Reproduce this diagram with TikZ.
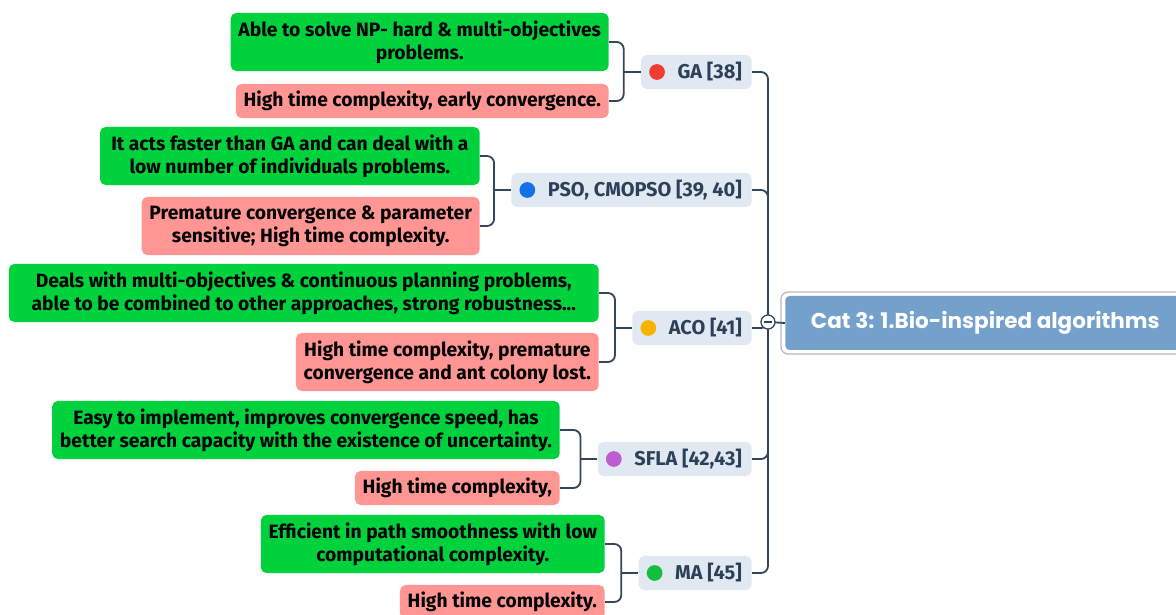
\documentclass[tikz,border=0pt]{standalone}
\usepackage{fontspec}
\setmainfont{Fira Sans}
\newfontfamily\titlefont{Poppins}
\usepackage{tikz}
\usetikzlibrary{positioning}

\definecolor{progreen}{RGB}{0, 210, 62}
\definecolor{conpink}{RGB}{255, 150, 148}
\definecolor{catfill}{RGB}{224, 232, 242}
\definecolor{cattext}{RGB}{44, 64, 90}
\definecolor{linkcol}{RGB}{52, 70, 92}
\definecolor{rootblue}{RGB}{116, 160, 204}
\definecolor{dotred}{RGB}{240, 60, 50}
\definecolor{dotblue}{RGB}{22, 112, 230}
\definecolor{dotorange}{RGB}{250, 180, 0}
\definecolor{dotviolet}{RGB}{190, 92, 210}
\definecolor{dotgreen}{RGB}{20, 190, 64}

\begin{document}
\begin{tikzpicture}[x=0.025cm, y=-0.025cm,
  leaf/.style={anchor=east, rounded corners=4pt, align=center, inner xsep=5.5pt, inner ysep=2pt, minimum height=24.2pt, text=black, font=\bfseries\fontsize{13.7}{16.3}\selectfont},
  pro/.style={leaf, fill=progreen},
  con/.style={leaf, fill=conpink},
  cat/.style={anchor=east, fill=catfill, rounded corners=4pt, inner xsep=7pt, minimum height=24.2pt, text=cattext, font=\bfseries\fontsize{14.2}{16}\selectfont,
    path picture={\fill[#1] ([xshift=11.4pt]path picture bounding box.west) circle (5.6pt);}},
  root/.style={anchor=west, fill=rootblue, rounded corners=3pt, minimum width=284.5pt, minimum height=38.4pt, text=white, font=\titlefont\bfseries\fontsize{15.3}{17}\selectfont},
  hub/.style={circle, draw=linkcol, fill=white, line width=0.9pt, minimum size=10pt, inner sep=0pt,
    path picture={\draw[linkcol, line width=0.8pt] ([xshift=-3pt]path picture bounding box.center) -- ([xshift=3pt]path picture bounding box.center);}},
  link/.style={draw=linkcol, line width=1.3pt, rounded corners=5pt}
]
  \useasboundingbox (0,0) rectangle (1176,615);

  % Root topic
  \draw[gray!55, line width=0.9pt, rounded corners=5pt] (781,292) rectangle (1200,354);
  \node[root] (bio) at (785,323) {Cat 3: 1.Bio-inspired algorithms};

  % Algorithms
  \node[cat=dotred] (ga) at (752,72) {\hspace*{19pt}GA [38]};
  \node[cat=dotblue] (pso) at (752,190) {\hspace*{19pt}PSO, CMOPSO [39, 40]};
  \node[cat=dotorange] (aco) at (752,328) {\hspace*{19pt}ACO [41]};
  \node[cat=dotviolet] (sfla) at (752,459) {\hspace*{19pt}SFLA [42,43]};
  \node[cat=dotgreen] (ma) at (752,573) {\hspace*{19pt}MA [45]};

  % Strengths and weaknesses
  \node[pro, minimum height=41.3pt] (gapro) at (609,42) {Able to solve NP- hard \& multi-objectives\\problems.};
  \node[con] (gacon) at (609,101) {High time complexity, early convergence.};

  \node[pro, minimum height=41.3pt, minimum width=270pt] (psopro) at (480,156) {It acts faster than GA and can deal with a\\low number of individuals problems.};
  \node[con, minimum height=41.3pt] (psocon) at (480,226) {Premature convergence \& parameter\\sensitive; High time complexity.};

  \node[pro, minimum height=41.3pt, minimum width=419.5pt] (acopro) at (599,293) {Deals with multi-objectives \& continuous planning problems,\\able to be combined to other approaches, strong robustness...};
  \node[con, minimum height=41.3pt] (acocon) at (599,362) {High time complexity, premature\\convergence and ant colony lost.};

  \node[pro, minimum height=41.3pt] (sflapro) at (560,430) {Easy to implement, improves convergence speed, has\\better search capacity with the existence of uncertainty.};
  \node[con] (sflacon) at (560,488) {High time complexity,};

  \node[pro, minimum height=41.3pt] (mapro) at (605,544) {Efficient in path smoothness with low\\computational complexity.};
  \node[con] (macon) at (605,602) {High time complexity.};

  % Trunk
  \coordinate (hubc) at (768,322);
  \draw[link] (bio.west) -- (hubc);
  \draw[link] (hubc) |- (ga.east);
  \draw[link] (hubc) |- (pso.east);
  \draw[link] (hubc) |- (aco.east);
  \draw[link] (hubc) |- (sfla.east);
  \draw[link] (hubc) |- (ma.east);
  \node[hub] (hub) at (hubc) {};

  % Brackets
  \draw[link] (ga.west) -- ++(-17,0) coordinate (gaj);
  \draw[link] (gaj) |- (gapro.east);
  \draw[link] (gaj) |- (gacon.east);

  \draw[link] (pso.west) -- ++(-17,0) coordinate (psoj);
  \draw[link] (psoj) |- (psopro.east);
  \draw[link] (psoj) |- (psocon.east);

  \draw[link] (aco.west) -- ++(-17,0) coordinate (acoj);
  \draw[link] (acoj) |- (acopro.east);
  \draw[link] (acoj) |- (acocon.east);

  \draw[link] (sfla.west) -- ++(-17,0) coordinate (sflaj);
  \draw[link] (sflaj) |- (sflapro.east);
  \draw[link] (sflaj) |- (sflacon.east);

  \draw[link] (ma.west) -- ++(-17,0) coordinate (maj);
  \draw[link] (maj) |- (mapro.east);
  \draw[link] (maj) |- (macon.east);
\end{tikzpicture}
\end{document}
